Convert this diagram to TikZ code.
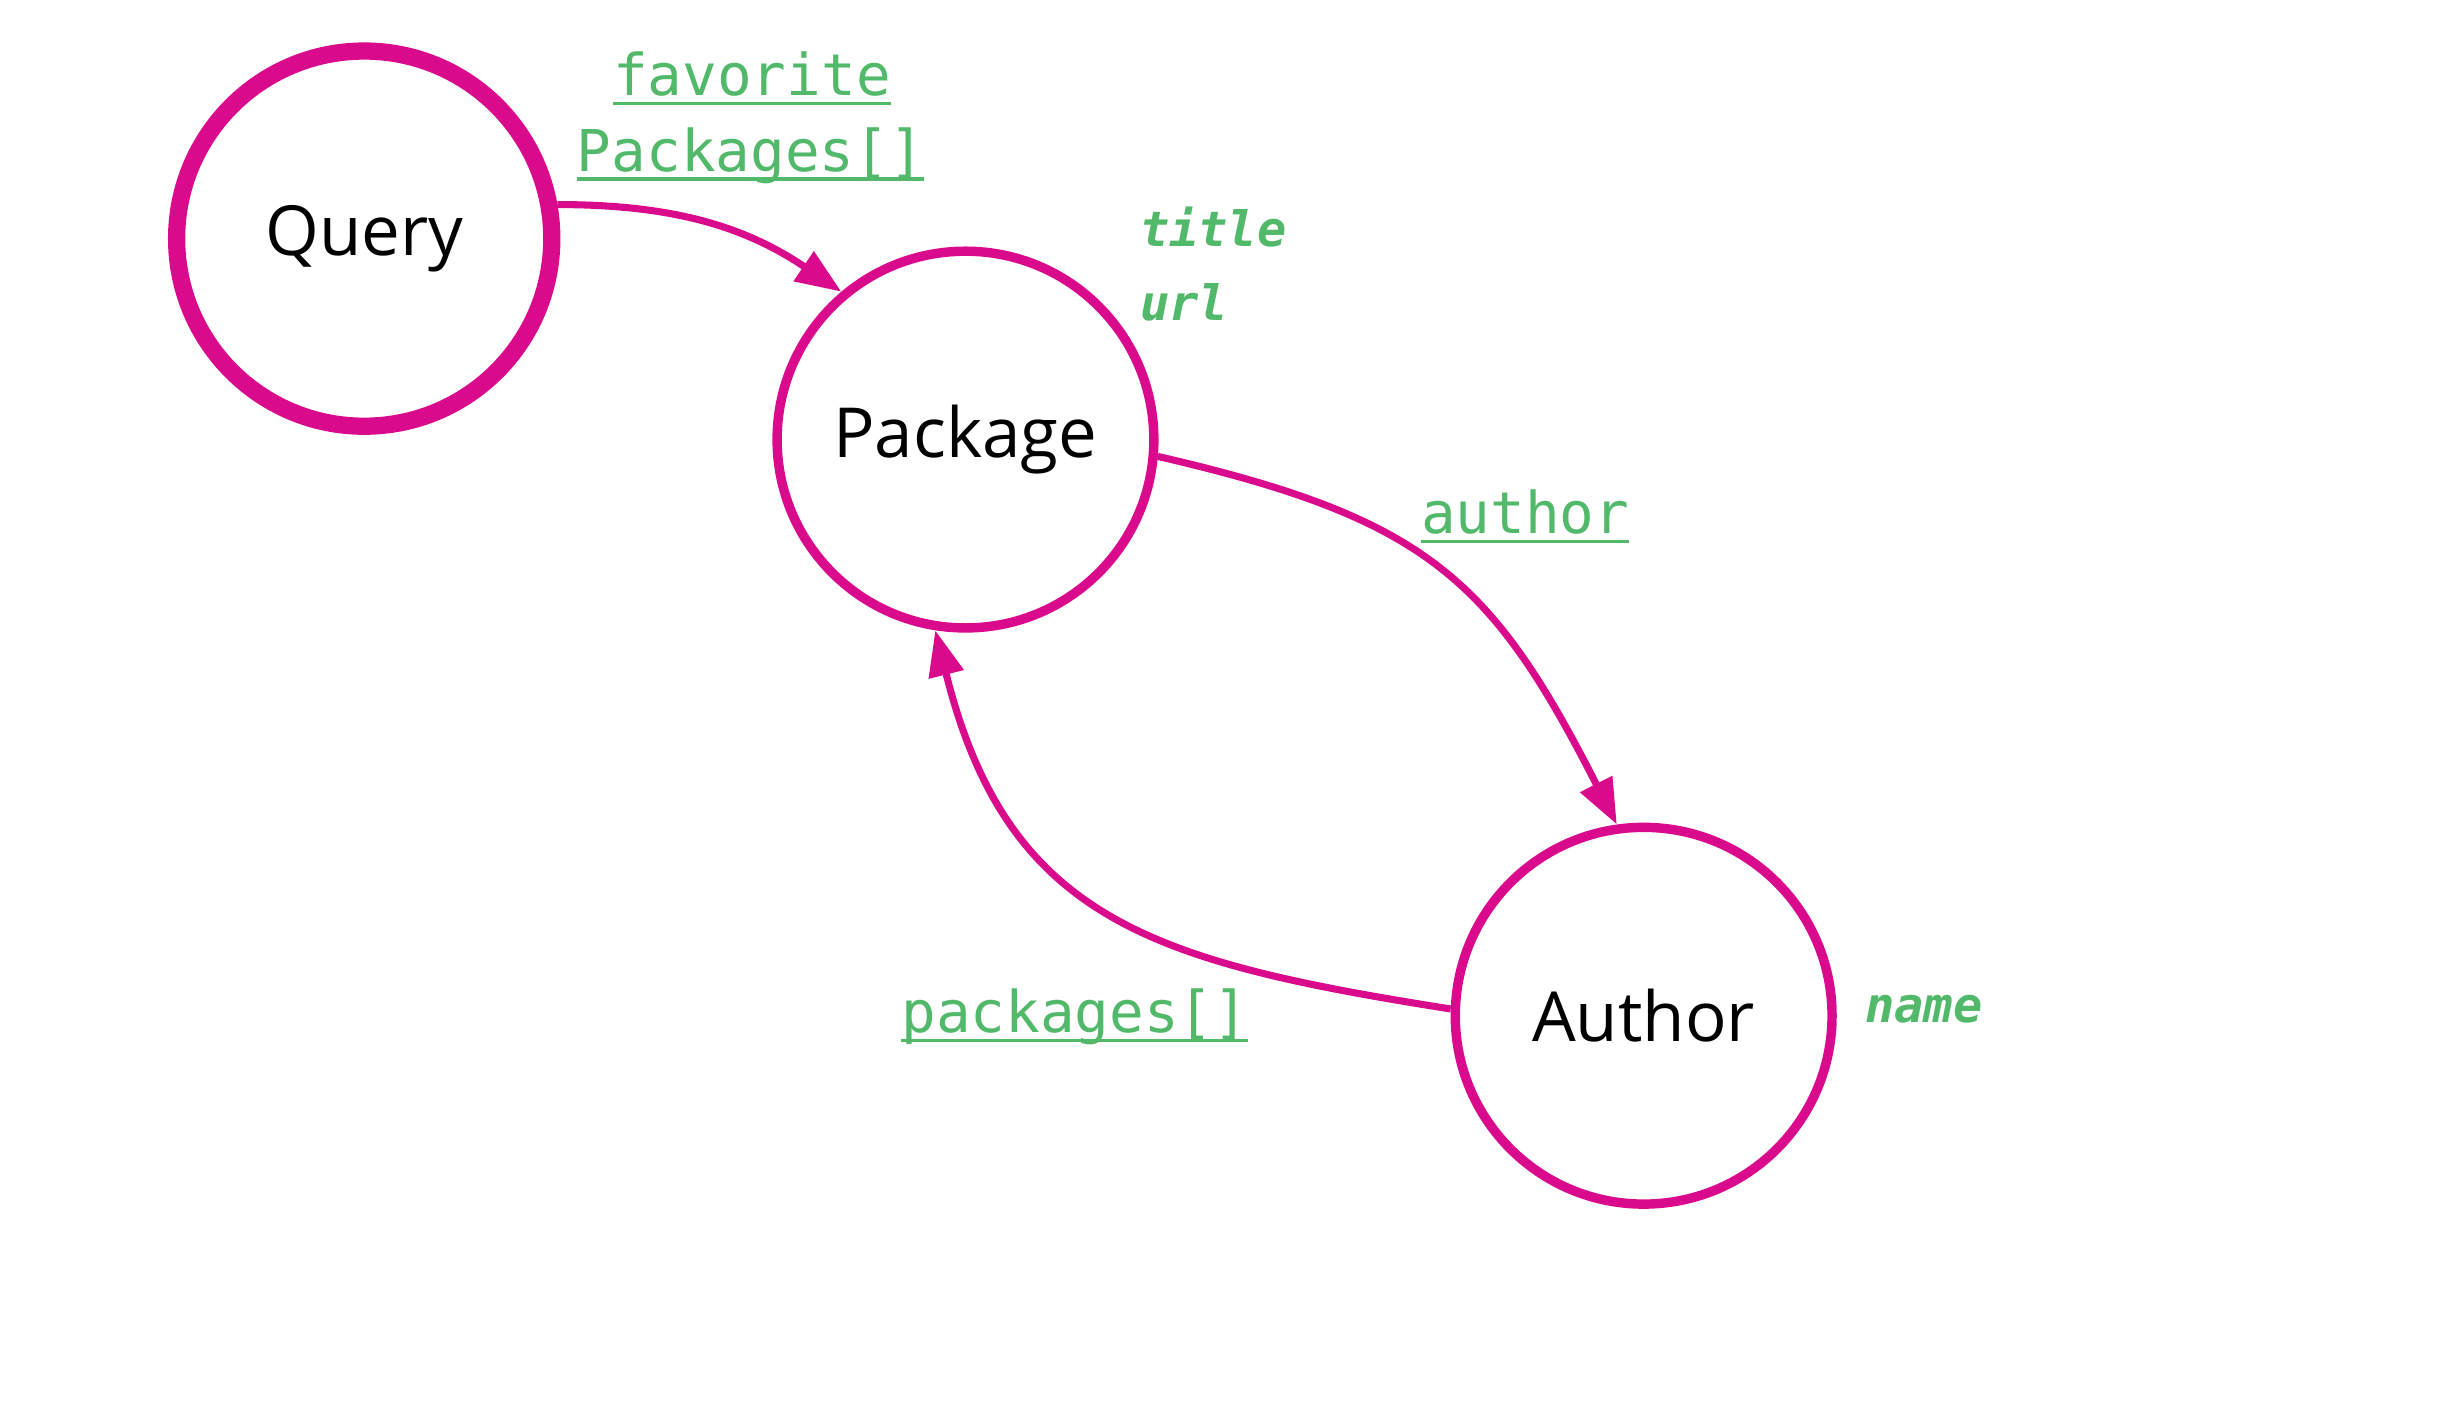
\documentclass[tikz,border=0pt]{standalone}
\usepackage{fontspec}
\setmainfont{Open Sans}
\newfontfamily\monof{DejaVu Sans Mono}
\newcommand{\myul}[1]{\setbox0=\hbox{#1}\rlap{\rule[-6pt]{\wd0}{2pt}}\box0}
\usetikzlibrary{arrows.meta}
\definecolor{mag}{HTML}{DA0A8C}
\definecolor{grn}{HTML}{52B96A}
\tikzset{
  entity/.style={circle, draw=mag, line width=6pt, minimum size=240pt, inner sep=0pt,
    fill=white, text=black, font=\fontsize{44}{50}\selectfont},
  rootentity/.style={entity, line width=11pt, minimum size=239pt},
  conn/.style={draw=mag, line width=4.5pt, -{Triangle[length=29pt,width=22pt]}},
  fieldlbl/.style={text=grn, inner sep=0pt, anchor=base west, font=\monof\fontsize{36.7}{44}\selectfont},
  scalarlbl/.style={text=grn, inner sep=0pt, anchor=base west, font=\monof\bfseries\itshape\fontsize{31}{40}\selectfont},
}
\begin{document}
\begin{tikzpicture}[x=1pt,y=1pt]
\useasboundingbox (0,0) rectangle (1560,-895);
\node[rootentity] (query) at (232,-152) {Query};
\node[entity] (package) at (615,-280) {Package};
\node[entity] (author) at (1047,-647) {Author};

\draw[conn] (query.10) to[out=0, in=146] (package.130);
\draw[conn] (package.-5) to[out=-13, in=117, looseness=1.2] (author.98);
\draw[conn] (author.178) to[out=171, in=-76, looseness=1.2] (package.261);

\node[fieldlbl, anchor=base] (favA) at (479,-61) {\myul{favorite}};
\node[fieldlbl, anchor=base] (favB) at (478,-109) {\myul{Packages[]}};
\node[fieldlbl] (authl) at (905,-340) {\myul{author}};
\node[fieldlbl] (pkgl) at (574,-658) {\myul{packages[]}};
\node[scalarlbl] (titlel) at (726,-157) {title};
\node[scalarlbl] (urll) at (726,-204) {url};
\node[scalarlbl] (namel) at (1188,-651) {name};
\end{tikzpicture}
\end{document}
